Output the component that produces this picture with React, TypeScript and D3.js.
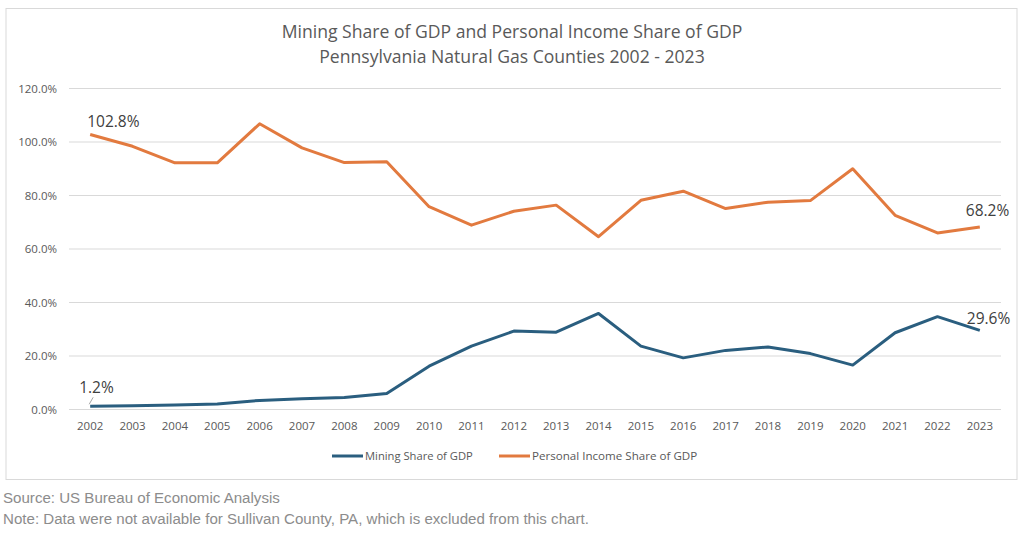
import React from "react";
import * as d3 from "d3";

const years = ["2002","2003","2004","2005","2006","2007","2008","2009","2010","2011","2012","2013","2014","2015","2016","2017","2018","2019","2020","2021","2022","2023"];
const miningShare = [1.2,1.4,1.7,2.1,3.4,4.0,4.5,6.0,16.2,23.7,29.3,28.9,35.9,23.7,19.3,22.1,23.4,20.9,16.6,28.7,34.7,29.6];
const incomeShare = [102.8,98.4,92.2,92.2,106.8,97.8,92.3,92.6,75.8,68.9,74.1,76.4,64.6,78.2,81.6,75.1,77.5,78.1,90.0,72.6,66.0,68.2];
const yTicks = [0,20,40,60,80,100,120];
const titleLines = ["Mining Share of GDP and Personal Income Share of GDP","Pennsylvania Natural Gas Counties 2002 - 2023"];
const seriesNames = ["Mining Share of GDP","Personal Income Share of GDP"];
const notes = ["Source: US Bureau of Economic Analysis","Note: Data were not available for Sullivan County, PA, which is excluded from this chart."];

const BLUE = "#2A5E7F";
const ORANGE = "#E27A3F";
const FONT = "'Open Sans', 'Noto Sans', sans-serif";

export default function App() {
  const W = 1024, H = 533;
  const plotL = 69, plotR = 1001, plotT = 88.5, plotB = 409.5;
  const x = d3.scaleBand<string>().domain(years).range([plotL, plotR]);
  const cx = (i: number) => (x(years[i]) as number) + x.bandwidth() / 2;
  const y = d3.scaleLinear().domain([0, 120]).range([plotB, plotT]);
  const line = d3.line<number>().x((_, i) => cx(i)).y((d) => y(d));
  const last = years.length - 1;

  return (
    <svg width={W} height={H} style={{ position: "absolute", left: 0, top: 0, background: "#fff" }}>
      <rect x={6} y={8.5} width={1011} height={471} fill="#fff" stroke="#d9d9d9" strokeWidth={1} />
      {titleLines.map((t, i) => (
        <text key={i} x={512} y={38 + i * 25} textAnchor="middle" fontFamily={FONT} fontSize={17.6} fill="#595959">{t}</text>
      ))}
      {yTicks.map((t) => (
        <g key={t}>
          <line x1={plotL} x2={plotR} y1={y(t)} y2={y(t)} stroke="#d9d9d9" strokeWidth={1} />
          <text x={57} y={y(t) + 4} textAnchor="end" fontFamily={FONT} fontSize={11.5} fill="#595959">{t.toFixed(1) + "%"}</text>
        </g>
      ))}
      {years.map((yr, i) => (
        <text key={yr} x={cx(i)} y={430} textAnchor="middle" fontFamily={FONT} fontSize={11.5} fill="#595959">{yr}</text>
      ))}
      <path d={line(incomeShare) as string} fill="none" stroke={ORANGE} strokeWidth={3} strokeLinejoin="round" />
      <path d={line(miningShare) as string} fill="none" stroke={BLUE} strokeWidth={3} strokeLinejoin="round" />
      <text x={cx(0) - 3} y={127} fontFamily={FONT} fontSize={15.5} fill="#404040">{incomeShare[0].toFixed(1) + "%"}</text>
      <text x={cx(0) - 11} y={393} fontFamily={FONT} fontSize={15.5} fill="#404040">{miningShare[0].toFixed(1) + "%"}</text>
      <line x1={cx(0) - 1} y1={y(miningShare[0]) - 2} x2={cx(0) + 3} y2={y(miningShare[0]) - 9} stroke="#a6a6a6" strokeWidth={1} />
      <text x={cx(last) - 14} y={216} fontFamily={FONT} fontSize={15.5} fill="#404040">{incomeShare[last].toFixed(1) + "%"}</text>
      <text x={cx(last) - 13} y={324} fontFamily={FONT} fontSize={15.5} fill="#404040">{miningShare[last].toFixed(1) + "%"}</text>
      <line x1={332} x2={363} y1={456} y2={456} stroke={BLUE} strokeWidth={3} />
      <text x={365} y={460} fontFamily={FONT} fontSize={11.2} fill="#595959">{seriesNames[0]}</text>
      <line x1={499} x2={530} y1={456} y2={456} stroke={ORANGE} strokeWidth={3} />
      <text x={532} y={460} fontFamily={FONT} fontSize={11.6} fill="#595959">{seriesNames[1]}</text>
      {notes.map((n, i) => (
        <text key={i} x={3} y={503 + i * 21} fontFamily="'Liberation Sans', Arial, sans-serif" fontSize={15.1} fill="#8c8c8c">{n}</text>
      ))}
    </svg>
  );
}
